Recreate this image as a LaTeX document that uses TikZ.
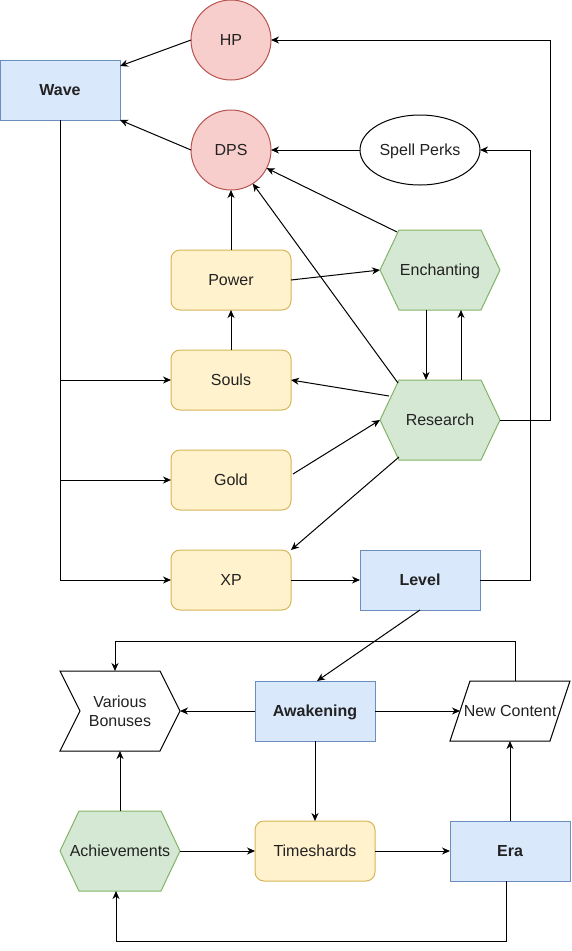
\documentclass[tikz,border=0pt]{standalone}
\usepackage{fontspec}
\setmainfont{Liberation Sans}
\usetikzlibrary{arrows.meta,calc,shapes.geometric}
\definecolor{bfill}{HTML}{DAE8FC}\definecolor{bline}{HTML}{6C8EBF}
\definecolor{rfill}{HTML}{F8CECC}\definecolor{rline}{HTML}{B85450}
\definecolor{yfill}{HTML}{FFF2CC}\definecolor{yline}{HTML}{D6B656}
\definecolor{gfill}{HTML}{D5E8D4}\definecolor{gline}{HTML}{82B366}
\definecolor{txtc}{HTML}{222222}
\begin{document}
\begin{tikzpicture}[x=1pt,y=-1pt,
  every node/.style={font=\fontsize{16}{19.2}\selectfont, text=txtc, inner sep=0pt, outer sep=0pt},
  oneline/.style={text height=14.5pt, text depth=3.4pt},
  bluebox/.style={oneline, draw=bline, fill=bfill, line width=1pt, minimum width=120pt, minimum height=60pt, font=\fontsize{16}{19.2}\selectfont\bfseries},
  redcirc/.style={oneline, circle, draw=rline, fill=rfill, line width=1pt, minimum size=80pt},
  yelbox/.style={oneline, draw=yline, fill=yfill, line width=1pt, rounded corners=9pt, minimum width=120pt, minimum height=60pt},
  hexarea/.style={oneline, minimum width=120pt, minimum height=80pt},
  hexshape/.style={draw=gline, fill=gfill, line width=1pt, line join=round},
  plainshape/.style={draw=black, fill=white, line width=1pt},
  conn/.style={draw=black, line width=1pt, -{Stealth[length=8pt,width=7pt,inset=2.5pt]}},
  wire/.style={draw=black, line width=1pt},
]
\useasboundingbox (0,0) rectangle (571,951);

% shapes drawn as paths
\path[hexshape] (380,270) -- (399,230) -- (481,230) -- (500,270) -- (481,310) -- (399,310) -- cycle;
\path[hexshape] (380,420) -- (399,380) -- (481,380) -- (500,420) -- (481,460) -- (399,460) -- cycle;
\path[hexshape] (60,851) -- (79,811) -- (161,811) -- (180,851) -- (161,891) -- (79,891) -- cycle;
\path[plainshape] (60,671) -- (160,671) -- (180,711) -- (160,751) -- (60,751) -- (80,711) -- cycle;
\path[plainshape] (470,681) -- (570,681) -- (550,741) -- (450,741) -- cycle;

% nodes
\node[bluebox] (wave) at (60,90) {Wave};
\node[redcirc] (hp) at (231,40) {HP};
\node[redcirc] (dps) at (231,150) {DPS};
\node[oneline, ellipse, draw=black, fill=white, line width=1pt, minimum width=120pt, minimum height=70pt] (spell) at (420,150) {Spell Perks};
\node[yelbox] (power) at (231,280) {Power};
\node[yelbox] (souls) at (231,380) {Souls};
\node[yelbox] (gold) at (231,480) {Gold};
\node[yelbox] (xp) at (231,580) {XP};
\node[hexarea] (ench) at (440,270) {Enchanting};
\node[hexarea] (res) at (440,420) {Research};
\node[bluebox] (level) at (420,580) {Level};
\node[bluebox] (awak) at (315,711) {Awakening};
\node[minimum width=120pt, minimum height=80pt, align=center] (vb) at (120,711) {Various\\Bonuses};
\node[oneline, minimum width=120pt, minimum height=60pt] (nc) at (510,711) {New Content};
\node[hexarea] (ach) at (120,851) {Achievements};
\node[yelbox] (ts) at (315,851) {Timeshards};
\node[bluebox] (era) at (510,851) {Era};

% connectors
\draw[conn] (hp.west) -- ($(wave.north east)+(0,6)$);
\draw[conn] (dps.west) -- (wave.south east);
\draw[conn] (spell.west) -- (dps.east);
\draw[conn] (power.north) -- (dps.south);
\draw[conn] (souls.north) -- (power.south);
\draw[conn] (power.east) -- (ench.west);
\draw[conn] ($(ench.north west)+(17,2)$) -- (dps.-27);
\draw[conn] ($(res.north west)+(18,3)$) -- (dps.-57);
\draw[conn] ($(ench.south)+(-14,0)$) -- ($(res.north)+(-14,0)$);
\draw[conn] ($(res.north)+(21,0)$) -- ($(ench.south)+(21,0)$);
\draw[conn] ($(res.west)+(9,-24)$) -- (souls.east);
\draw[conn] ($(gold.east)+(2,-6)$) -- (res.west);
\draw[conn] ($(res.south west)+(19,-3)$) -- (xp.north east);
\draw[conn] (xp.east) -- (level.west);
\draw[conn] (level.east) -- ++(50,0) |- (spell.east);
\draw[conn] (res.east) -- ++(50,0) |- (hp.east);
\draw[conn] (wave.south) |- (xp.west);
\draw[conn] (wave.south |- souls.west) -- (souls.west);
\draw[conn] (wave.south |- gold.west) -- (gold.west);
\draw[conn] (level.south) -- ($(awak.north)+(2,0)$);
\draw[conn] (awak.west) -- (vb.east);
\draw[conn] (awak.east) -- ($(nc.west)+(10,0)$);
\draw[conn] ($(nc.north)+(5,0)$) -- ++(0,-40) -| ($(vb.north)+(-5,0)$);
\draw[conn] (awak.south) -- (ts.north);
\draw[conn] (ach.east) -- (ts.west);
\draw[conn] (ts.east) -- (era.west);
\draw[conn] (ach.north) -- (vb.south);
\draw[conn] (era.north) -- (nc.south);
\draw[conn] ($(era.south)+(-4,0)$) -- ++(0,60) -| ($(ach.south)+(-4,0)$);
\end{tikzpicture}
\end{document}
